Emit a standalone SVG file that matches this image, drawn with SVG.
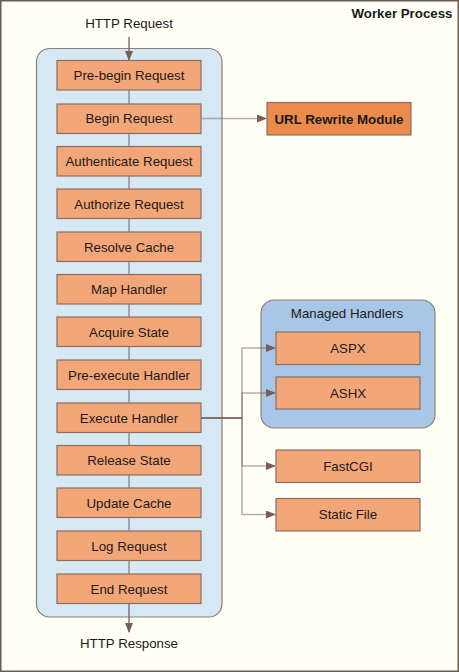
<svg xmlns="http://www.w3.org/2000/svg" width="459" height="672" viewBox="0 0 459 672">
<style>
text{font-family:"Liberation Sans",Arial,sans-serif;font-size:13.3px;fill:#1a1a1a;text-anchor:middle}
.b{font-weight:bold}
.step{fill:#f3a677;stroke:#8b6e62;stroke-width:1.2}
.link{stroke:#8c807b;stroke-width:1.3;fill:none}
.io{stroke:#7a5e56;stroke-width:1.3;fill:none}
.br{stroke:#7a5c55;stroke-opacity:0.5;stroke-width:1.5;fill:none}
</style>
<defs>
<marker id="ah" markerWidth="10" markerHeight="8" refX="9" refY="4" orient="auto" markerUnits="userSpaceOnUse">
<path d="M0,0 L10,4 L0,8 z" fill="#7a5e56"/>
</marker>
</defs>
<rect x="0.75" y="0.75" width="457.5" height="670.5" fill="#fffff6" stroke="#6b5a50" stroke-width="1.5"/>
<text class="b" x="402" y="18">Worker Process</text>

<g id="pipeline">
<rect x="36.5" y="48.5" width="185.5" height="568.5" rx="13" fill="#d7e8f5" stroke="#8c807b" stroke-width="1.2"/>
</g>
<g id="managed">
<rect x="261" y="300" width="174" height="128" rx="13" fill="#a8c7e6" stroke="#8c807b" stroke-width="1.2"/>
<text x="347" y="317.5">Managed Handlers</text>
</g>

<g id="connectors">
<line class="io" x1="129" y1="37" x2="129" y2="60" marker-end="url(#ah)"/>
<line class="link" x1="129" y1="90" x2="129" y2="574"/>
<line class="io" x1="129" y1="603" x2="129" y2="632" marker-end="url(#ah)"/>
<line class="br" x1="201" y1="118.5" x2="266" y2="118.5" marker-end="url(#ah)"/>
<path class="br" d="M201,418 H242 V348 H275" marker-end="url(#ah)"/>
<path class="br" d="M201,418 H242 V393 H275" marker-end="url(#ah)"/>
<path class="br" d="M201,418 H242 V466 H275" marker-end="url(#ah)"/>
<path class="br" d="M201,418 H242 V514.5 H275" marker-end="url(#ah)"/>
</g>

<text x="129" y="28">HTTP Request</text>
<text x="129" y="648">HTTP Response</text>

<g id="prebegin"><rect class="step" x="57" y="60.5" width="144" height="29.5"/><text x="129" y="80">Pre-begin Request</text></g>
<g id="begin"><rect class="step" x="57" y="104" width="144" height="29.5"/><text x="129" y="123">Begin Request</text></g>
<g id="authenticate"><rect class="step" x="57" y="146.5" width="144" height="29.5"/><text x="129" y="166">Authenticate Request</text></g>
<g id="authorize"><rect class="step" x="57" y="189" width="144" height="29.5"/><text x="129" y="208.5">Authorize Request</text></g>
<g id="resolvecache"><rect class="step" x="57" y="232" width="144" height="29.5"/><text x="129" y="251.5">Resolve Cache</text></g>
<g id="maphandler"><rect class="step" x="57" y="274.5" width="144" height="29.5"/><text x="129" y="294">Map Handler</text></g>
<g id="acquirestate"><rect class="step" x="57" y="317" width="144" height="29.5"/><text x="129" y="336.5">Acquire State</text></g>
<g id="preexecute"><rect class="step" x="57" y="360" width="144" height="29.5"/><text x="129" y="379.5">Pre-execute Handler</text></g>
<g id="execute"><rect class="step" x="57" y="403" width="144" height="29.5"/><text x="129" y="422.5">Execute Handler</text></g>
<g id="releasestate"><rect class="step" x="57" y="445.5" width="144" height="29.5"/><text x="129" y="465">Release State</text></g>
<g id="updatecache"><rect class="step" x="57" y="488" width="144" height="29.5"/><text x="129" y="507.5">Update Cache</text></g>
<g id="logrequest"><rect class="step" x="57" y="531" width="144" height="29.5"/><text x="129" y="550.5">Log Request</text></g>
<g id="endrequest"><rect class="step" x="57" y="574" width="144" height="29.5"/><text x="129" y="593.5">End Request</text></g>

<g id="urlrewrite"><rect x="267" y="102.5" width="144" height="32.5" fill="#ea8a4b" stroke="#8b6e62" stroke-width="1.2"/><text class="b" x="339" y="123.5">URL Rewrite Module</text></g>

<g id="aspx"><rect class="step" x="276" y="332" width="144" height="32.5"/><text x="348" y="352.5">ASPX</text></g>
<g id="ashx"><rect class="step" x="276" y="377" width="144" height="32"/><text x="348" y="397.5">ASHX</text></g>
<g id="fastcgi"><rect class="step" x="276" y="450" width="144" height="32.5"/><text x="348" y="470.5">FastCGI</text></g>
<g id="staticfile"><rect class="step" x="276" y="498.5" width="144" height="32.5"/><text x="348" y="519">Static File</text></g>
</svg>
